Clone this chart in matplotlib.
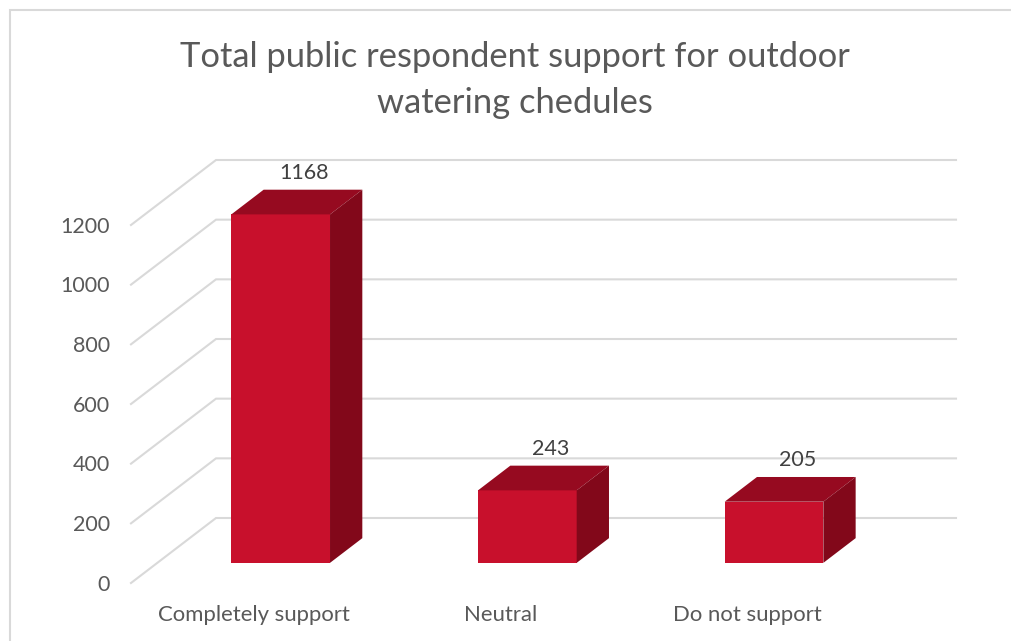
"""
Total public respondent support, faked 3D column chart
"""
import matplotlib
matplotlib.use("Agg")
import matplotlib.pyplot as plt
from matplotlib.patches import Polygon, Rectangle

categories = ["Completely support", "Neutral", "Do not support"]
values = [1168, 243, 205]
y_ticks = [0, 200, 400, 600, 800, 1000, 1200]
title = "Total public respondent support for outdoor\nwatering chedules"

W, H = 1011, 641
FRONT = "#C8102C"
TOP = "#960A20"
SIDE = "#82081A"
GRID = "#D9D9D9"

# depth of the fake 3D floor, in data units
DEPTH_X = 85 / (740 / 3)
DEPTH_Y = 65 / (358 / 1200)
BAR_W = 0.4
D0, D1 = 0.31, 0.69  # where the bars sit along the depth

plt.rcParams["font.family"] = ["Lato", "DejaVu Sans"]

fig = plt.figure(figsize=(W / 100, H / 100), dpi=100)

# frame of the chart
fig.add_artist(Rectangle((10 / W, -0.02), 1.2, 1 - 10 / H + 0.02, transform=fig.transFigure,
                         fill=False, edgecolor=GRID, linewidth=1.5))

ax = fig.add_axes([131 / W, (H - 583) / H, 740 / W, 358 / H])
ax.set_xlim(-0.5, 2.5)
ax.set_ylim(0, 1200)
ax.axis("off")

x0, x1 = ax.get_xlim()

# gridlines: slanted side wall, then back wall
for t in y_ticks:
    ax.plot([x0, x0 + DEPTH_X, x1 + DEPTH_X], [t, t + DEPTH_Y, t + DEPTH_Y],
            color=GRID, linewidth=1.5, clip_on=False, zorder=1, solid_joinstyle="miter")
    ax.text(x0 - 0.085, t - 6, f"{t}", ha="right", va="center", fontsize=15.5, color="#595959")

# columns
for i, (cat, v) in enumerate(zip(categories, values)):
    left = i - BAR_W / 2 + D0 * DEPTH_X
    right = left + BAR_W
    base = D0 * DEPTH_Y
    dx = (D1 - D0) * DEPTH_X
    dy = (D1 - D0) * DEPTH_Y
    ax.bar(left, v, width=BAR_W, bottom=base, align="edge", color=FRONT, zorder=3, clip_on=False)
    ax.add_patch(Polygon([(left, base + v), (right, base + v), (right + dx, base + v + dy),
                          (left + dx, base + v + dy)], closed=True, color=TOP, zorder=3, clip_on=False, linewidth=0))
    ax.add_patch(Polygon([(right, base), (right + dx, base + dy), (right + dx, base + v + dy),
                          (right, base + v)], closed=True, color=SIDE, zorder=3, clip_on=False, linewidth=0))
    ax.annotate(f"{v}", (i + 0.5 * DEPTH_X, base + v + dy), xytext=(5.5, 5), textcoords="offset points",
                ha="center", va="bottom", fontsize=15.5, color="#404040", zorder=4, annotation_clip=False)
    ax.text(i, -107, cat, ha="center", va="center", fontsize=15.9, color="#595959")

fig.text(515 / W, 1 - 80 / H, title, ha="center", va="center", fontsize=24.8, color="#595959", linespacing=1.56)

fig.savefig("out.png", dpi=100)
